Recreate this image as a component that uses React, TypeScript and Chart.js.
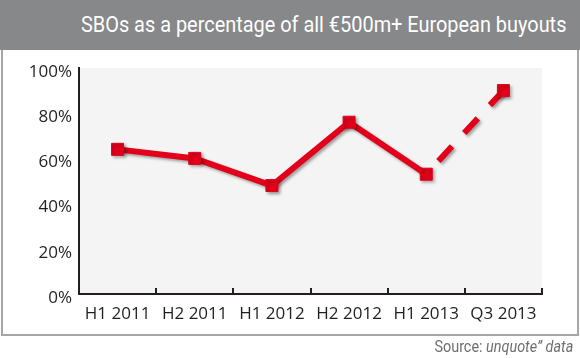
import React, { useEffect, useRef } from "react";
import { Chart, registerables } from "chart.js";

Chart.register(...registerables);

const categories = ["H1 2011", "H2 2011", "H1 2012", "H2 2012", "H1 2013", "Q3 2013"];
const sboShare = [64, 60, 48, 76, 53, 90];
const yTicks = [0, 20, 40, 60, 80, 100];

const RED = "#e2001a";
const AXIS = "#231f20";

const plotBg = {
  id: "plotBg",
  beforeDraw(chart: any) {
    const { ctx, chartArea } = chart;
    ctx.save();
    ctx.fillStyle = "#f4f4f4";
    ctx.fillRect(chartArea.left, chartArea.top, chartArea.right - chartArea.left, chartArea.bottom - chartArea.top);
    ctx.restore();
  },
};

const shadow = {
  id: "shadow",
  beforeDatasetsDraw(chart: any) {
    const ctx = chart.ctx;
    ctx.save();
    ctx.shadowColor = "rgba(0,0,0,0.35)";
    ctx.shadowOffsetX = 2;
    ctx.shadowOffsetY = 2;
    ctx.shadowBlur = 3;
  },
  afterDatasetsDraw(chart: any) {
    chart.ctx.restore();
  },
};

const upTicks = {
  id: "upTicks",
  afterDraw(chart: any) {
    const x = chart.scales.x;
    const { ctx, chartArea } = chart;
    const n = categories.length;
    const half = (x.getPixelForValue(1) - x.getPixelForValue(0)) / 2;
    ctx.save();
    ctx.strokeStyle = AXIS;
    ctx.lineWidth = 2;
    for (let i = 0; i < n; i++) {
      const px = Math.round(x.getPixelForValue(i) + half);
      ctx.beginPath();
      ctx.moveTo(px, chartArea.bottom);
      ctx.lineTo(px, chartArea.bottom - 6);
      ctx.stroke();
    }
    ctx.restore();
  },
};

function ChartView() {
  const ref = useRef<HTMLCanvasElement>(null);
  useEffect(() => {
    const chart = new Chart(ref.current as HTMLCanvasElement, {
      type: "line",
      data: {
        labels: categories,
        datasets: [
          {
            data: sboShare,
            borderColor: RED,
            backgroundColor: RED,
            borderWidth: 6,
            borderCapStyle: "butt",
            borderJoinStyle: "miter",
            pointStyle: "rect",
            pointRadius: 8.5,
            pointHoverRadius: 8.5,
            pointBorderWidth: 1,
            pointBorderColor: RED,
            pointBackgroundColor: RED,
            tension: 0,
            segment: {
              borderDash: (c: any) => (c.p0DataIndex === categories.length - 2 ? [20, 18] : undefined),
              borderDashOffset: (c: any) => (c.p0DataIndex === categories.length - 2 ? 20 : undefined),
            },
          } as any,
        ],
      },
      options: {
        responsive: false,
        animation: false,
        devicePixelRatio: 1,
        layout: { padding: { top: 68, right: 38, left: 0, bottom: 0 } },
        plugins: { legend: { display: false }, tooltip: { enabled: false }, title: { display: false } },
        scales: {
          x: {
            offset: true,
            grid: { display: false, drawTicks: false, offset: true },
            border: { display: true, color: AXIS, width: 2 },
            ticks: {
              color: AXIS,
              font: { family: "'Open Sans'", size: 17 },
              padding: 10,
              maxRotation: 0,
              autoSkip: false,
            },
            afterFit: (s: any) => {
              s.height = 64;
            },
          },
          y: {
            min: 0,
            max: 100,
            afterBuildTicks: (s: any) => {
              s.ticks = yTicks.map((v) => ({ value: v }));
            },
            grid: { display: false, drawTicks: false },
            border: { display: true, color: AXIS, width: 2 },
            ticks: {
              color: AXIS,
              font: { family: "'Open Sans'", size: 17 },
              padding: 7,
              labelOffset: 4,
              callback: (v: any) => v + "%",
            },
            afterFit: (s: any) => {
              s.width = 79;
            },
          },
        },
      },
      plugins: [plotBg, shadow, upTicks],
    });
    return () => chart.destroy();
  }, []);
  return <canvas ref={ref} width={580} height={358} style={{ position: "absolute", left: 0, top: 0 }} />;
}

export default function App() {
  useEffect(() => {
    document.body.style.margin = "0";
  }, []);
  return (
    <div style={{ position: "fixed", left: 0, top: 0, width: 580, height: 358, background: "#fff", overflow: "hidden" }}>
      <div
        style={{
          position: "absolute",
          left: 1,
          top: 0,
          width: 574,
          height: 334,
          border: "2px solid #a6a6a6",
          borderTop: "none",
        }}
      />
      <div
        style={{
          position: "absolute",
          left: 0,
          top: 0,
          width: 580,
          height: 50,
          background: "#87888a",
        }}
      />
      <div
        style={{
          position: "absolute",
          right: 14,
          top: 9,
          whiteSpace: "nowrap",
          color: "#fff",
          fontFamily: "Roboto, sans-serif",
          fontSize: 22,
          lineHeight: "32px",
          transform: "scaleX(0.905)",
          transformOrigin: "right center",
        }}
      >
        SBOs as a percentage of all €500m+ European buyouts
      </div>
      <ChartView />
      <div
        style={{
          position: "absolute",
          right: 7,
          top: 336,
          whiteSpace: "nowrap",
          color: "#6d6e70",
          fontFamily: "Roboto, sans-serif",
          fontSize: 16,
          lineHeight: "21px",
          transform: "scaleX(0.9)",
          transformOrigin: "right center",
        }}
      >
        Source: <i>unquote” data</i>
      </div>
    </div>
  );
}
